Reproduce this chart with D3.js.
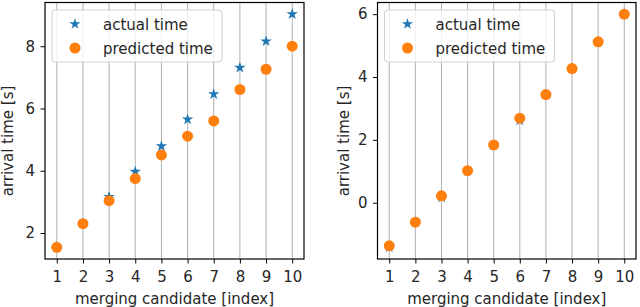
<!DOCTYPE html>
<html>
<head>
<meta charset="utf-8">
<script src="https://cdn.jsdelivr.net/npm/d3@7"></script>
<style>
  body { margin: 0; background: #fff; }
  svg text { font-family: "DejaVu Sans", sans-serif; fill: #262626; }
</style>
</head>
<body>
<div id="chart"></div>
<script>
// merging candidate index, shared by both panels
const candidates = [1, 2, 3, 4, 5, 6, 7, 8, 9, 10];

// left panel
const actualLeft    = [1.55, 2.31, 3.16, 3.97, 4.79, 5.65, 6.46, 7.31, 8.16, 9.03];
const predictedLeft = [1.54, 2.30, 3.04, 3.75, 4.51, 5.11, 5.60, 6.61, 7.26, 8.00];
const ticksLeft = [2, 4, 6, 8];

// right panel
const actualRight    = [-1.42, -0.62, 0.17, 1.01, 1.83, 2.62, 3.44, 4.27, 5.12, 6.00];
const predictedRight = [-1.37, -0.62, 0.22, 1.02, 1.84, 2.69, 3.44, 4.27, 5.12, 6.00];
const ticksRight = [0, 2, 4, 6];

const width = 640, height = 307;
const blue = "#1f77b4", orange = "#ff7f0e";
const fontSize = "15px";

const svg = d3.select("#chart").append("svg")
    .attr("width", width)
    .attr("height", height);

function drawPanel(left, right, actual, predicted, yTicks, labelX) {
  let top = 2.5, bottom = 259;

  // matplotlib style 5% margins
  let xs = d3.scaleLinear().domain([0.55, 10.45]).range([left, right]);
  let all = actual.concat(predicted);
  let lo = d3.min(all), hi = d3.max(all), pad = (hi - lo) * 0.05;
  let ys = d3.scaleLinear().domain([lo - pad, hi + pad]).range([bottom, top]);

  let g = svg.append("g");

  // vertical grid
  g.append("g").selectAll("line").data(candidates).enter().append("line")
      .attr("x1", d => xs(d)).attr("x2", d => xs(d))
      .attr("y1", top).attr("y2", bottom)
      .attr("stroke", "#b0b0b0").attr("stroke-width", 1);

  // axes
  let xAxis = d3.axisBottom(xs).tickValues(candidates).tickSize(4.5).tickPadding(8).tickFormat(d3.format("d"));
  let yAxis = d3.axisLeft(ys).tickValues(yTicks).tickSize(4.5).tickPadding(5.5).tickFormat(d3.format("d"));

  let xg = g.append("g").attr("transform", `translate(0,${bottom})`).call(xAxis);
  let yg = g.append("g").attr("transform", `translate(${left},0)`).call(yAxis);
  [xg, yg].forEach(a => {
    a.select(".domain").remove();
    a.selectAll("line").attr("stroke", "#000").attr("stroke-width", 1);
    a.selectAll("text").style("font-size", fontSize).attr("fill", "#262626");
  });

  // stars first, circles on top
  g.append("g").selectAll("path").data(actual).enter().append("path")
      .attr("d", d3.symbol().type(d3.symbolStar).size(40))
      .attr("transform", (d, i) => `translate(${xs(candidates[i])},${ys(d)})`)
      .attr("fill", blue);

  g.append("g").selectAll("circle").data(predicted).enter().append("circle")
      .attr("cx", (d, i) => xs(candidates[i]))
      .attr("cy", d => ys(d))
      .attr("r", 5.5)
      .attr("fill", orange);

  // frame
  g.append("rect")
      .attr("x", left).attr("y", top)
      .attr("width", right - left).attr("height", bottom - top)
      .attr("fill", "none").attr("stroke", "#000").attr("stroke-width", 1.2);

  // legend
  let lx = left + 7, ly = top + 7.5;
  let lg = g.append("g");
  lg.append("rect")
      .attr("x", lx).attr("y", ly).attr("width", 170).attr("height", 52)
      .attr("rx", 3)
      .attr("fill", "#fff").attr("fill-opacity", 0.8)
      .attr("stroke", "#d0d0d0").attr("stroke-width", 1);
  lg.append("path")
      .attr("d", d3.symbol().type(d3.symbolStar).size(40))
      .attr("transform", `translate(${lx + 23},${ly + 14})`)
      .attr("fill", blue);
  lg.append("circle")
      .attr("cx", lx + 23).attr("cy", ly + 38).attr("r", 5.5)
      .attr("fill", orange);
  lg.append("text").attr("x", lx + 51).attr("y", ly + 19.5)
      .style("font-size", fontSize).text("actual time");
  lg.append("text").attr("x", lx + 51).attr("y", ly + 43.5)
      .style("font-size", fontSize).text("predicted time");

  // axis labels
  g.append("text")
      .attr("x", (left + right) / 2).attr("y", 303.5)
      .attr("text-anchor", "middle")
      .style("font-size", fontSize)
      .text("merging candidate [index]");
  g.append("text")
      .attr("transform", `translate(${labelX},141) rotate(-90)`)
      .attr("text-anchor", "middle")
      .style("font-size", fontSize)
      .text("arrival time [s]");
}

drawPanel(45, 304, actualLeft, predictedLeft, ticksLeft, 13);
drawPanel(377.5, 636, actualRight, predictedRight, ticksRight, 348.5);
</script>
</body>
</html>
